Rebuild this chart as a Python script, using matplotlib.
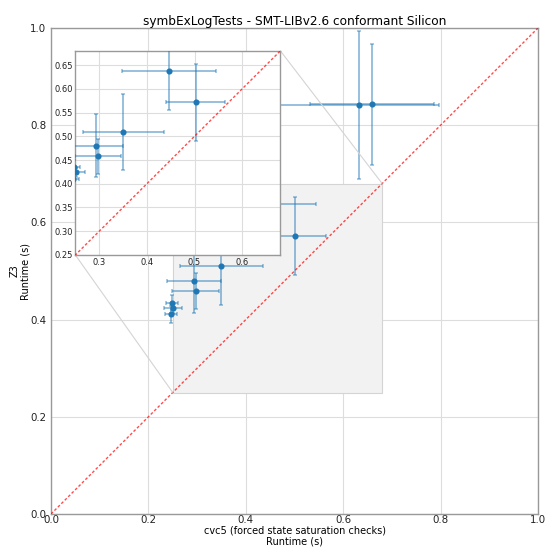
import numpy as np
import matplotlib
matplotlib.use("Agg")
import matplotlib.pyplot as plt
from mpl_toolkits.axes_grid1.inset_locator import mark_inset

# Runtimes (seconds)
cvc5_mean = [0.633, 0.659, 0.446, 0.502, 0.350, 0.294, 0.297, 0.248, 0.251, 0.246]
cvc5_err = [0.163, 0.128, 0.099, 0.062, 0.085, 0.056, 0.048, 0.012, 0.019, 0.012]
z3_mean = [0.842, 0.843, 0.638, 0.572, 0.510, 0.480, 0.458, 0.435, 0.424, 0.411]
z3_err = [0.152, 0.125, 0.083, 0.081, 0.080, 0.066, 0.037, 0.015, 0.010, 0.017]

title = "symbExLogTests - SMT-LIBv2.6 conformant Silicon"
xlab = "cvc5 (forced state saturation checks)\nRuntime (s)"
ylab = "Z3\nRuntime (s)"
zoom_lim = (0.25, 0.68)

blue = "#1f77b4"
ebar = (0.12, 0.47, 0.71, 0.5)


def draw(ax, fs):
    ax.errorbar(cvc5_mean, z3_mean, xerr=cvc5_err, yerr=z3_err, fmt="o",
                color=blue, ecolor=ebar, markersize=3.4, elinewidth=1.3,
                capsize=1.6, capthick=1.1, zorder=3)
    ax.plot([0, 1], [0, 1], color="red", alpha=0.7, lw=1,
            dashes=(2, 1.5), zorder=4)
    ax.grid(True, color="#dddddd", lw=0.8)
    ax.set_axisbelow(True)
    ax.tick_params(length=0, labelsize=fs, colors="#222222")
    for s in ax.spines.values():
        s.set_color("#999999")
        s.set_linewidth(1)


fig = plt.figure(figsize=(5.45, 5.47), dpi=100)
ax = fig.add_axes([51 / 545, 33 / 547, 487 / 545, 486 / 547])
draw(ax, 7.4)
ax.tick_params(axis="x", pad=1)
ax.set_xlim(0, 1)
ax.set_ylim(0, 1)
ax.set_xticks(np.arange(0, 1.01, 0.2))
ax.set_yticks(np.arange(0, 1.01, 0.2))
ax.set_title(title, fontsize=8.7, pad=2)
ax.set_xlabel(xlab, fontsize=7, labelpad=0, linespacing=1.1)
ax.set_ylabel(ylab, fontsize=7, labelpad=0, linespacing=1.1)

axins = ax.inset_axes([0.05, 0.533, 0.421, 0.42])
draw(axins, 6)
axins.set_xlim(*zoom_lim)
axins.set_ylim(*zoom_lim)
axins.set_xticks([0.3, 0.4, 0.5, 0.6])
axins.set_yticks(np.arange(0.25, 0.651, 0.05))
axins.set_facecolor("white")
axins.tick_params(pad=2)

mark_inset(ax, axins, loc1=1, loc2=3, fc="#f2f2f2", ec="#d4d4d4", lw=0.8,
           zorder=1)

fig.savefig("out.png", dpi=100)
